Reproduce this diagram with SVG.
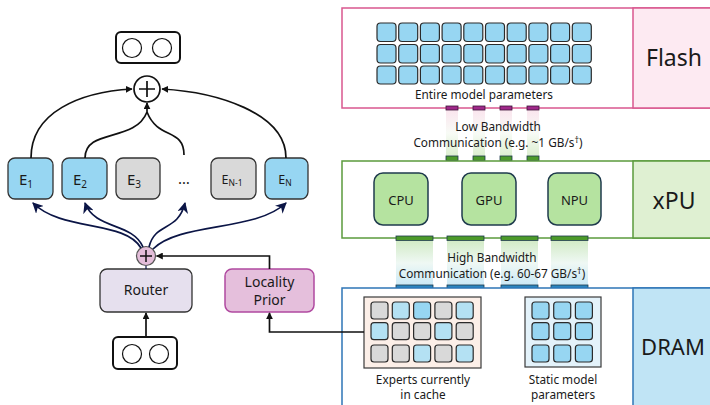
<svg xmlns="http://www.w3.org/2000/svg" width="710" height="405" viewBox="0 0 710 405">
<defs>
<style>
text{font-family:"Noto Sans","Liberation Sans",sans-serif;fill:#1a1a1a}
.cell{stroke:#2b2b2b;stroke-width:1.2}
.b{fill:#97d6f2}
.lb{fill:#b4e1f3}
.g{fill:#d9d9d9}
.exp{stroke:#333;stroke-width:1.3}
.blk{fill:none;stroke:#111;stroke-width:1.7}
.nav{fill:none;stroke:#0b1546;stroke-width:1.7}
.sm{font-size:11.8px}
.big{font-size:23px}
.unit{font-size:13px}
.lbl{font-size:14px}
</style>
<marker id="ab" viewBox="0 0 10 10" refX="9" refY="5" markerWidth="7" markerHeight="7" orient="auto-start-reverse" markerUnits="userSpaceOnUse"><path d="M0,0 L10,5 L0,10 z" fill="#111"/></marker>
<marker id="an" viewBox="0 0 10 10" refX="9" refY="5" markerWidth="11" markerHeight="11" orient="auto" markerUnits="userSpaceOnUse"><path d="M0,0 L10,5 L0,10 L3,5 z" fill="#0b1546"/></marker>
<linearGradient id="gpg" x1="0" y1="0" x2="0" y2="1"><stop offset="0" stop-color="#fae5ee"/><stop offset="0.5" stop-color="#f8fbf6"/><stop offset="1" stop-color="#dcefd0"/></linearGradient>
<linearGradient id="ggb" x1="0" y1="0" x2="0" y2="1"><stop offset="0" stop-color="#d3ebc7"/><stop offset="0.5" stop-color="#eff8f4"/><stop offset="1" stop-color="#cbe9f6"/></linearGradient>
</defs>

<!-- Flash -->
<g id="flash">
<rect x="342" y="8" width="400" height="100" fill="#fff" stroke="#d9578f" stroke-width="1.5"/>
<rect x="633" y="8" width="110" height="100" fill="#fdeaf2" stroke="#d9578f" stroke-width="1.5"/>
<text class="big" x="674" y="66" text-anchor="middle">Flash</text>
<g id="flash-cells">
<rect class="cell b" x="377" y="23" width="19" height="18.5" rx="3.5"/><rect class="cell b" x="398.7" y="23" width="19" height="18.5" rx="3.5"/><rect class="cell b" x="420.4" y="23" width="19" height="18.5" rx="3.5"/><rect class="cell b" x="442.1" y="23" width="19" height="18.5" rx="3.5"/><rect class="cell b" x="463.8" y="23" width="19" height="18.5" rx="3.5"/><rect class="cell b" x="485.5" y="23" width="19" height="18.5" rx="3.5"/><rect class="cell b" x="507.2" y="23" width="19" height="18.5" rx="3.5"/><rect class="cell b" x="528.9" y="23" width="19" height="18.5" rx="3.5"/><rect class="cell b" x="550.6" y="23" width="19" height="18.5" rx="3.5"/><rect class="cell b" x="572.3" y="23" width="19" height="18.5" rx="3.5"/>
<rect class="cell b" x="377" y="44.5" width="19" height="18.5" rx="3.5"/><rect class="cell b" x="398.7" y="44.5" width="19" height="18.5" rx="3.5"/><rect class="cell b" x="420.4" y="44.5" width="19" height="18.5" rx="3.5"/><rect class="cell b" x="442.1" y="44.5" width="19" height="18.5" rx="3.5"/><rect class="cell b" x="463.8" y="44.5" width="19" height="18.5" rx="3.5"/><rect class="cell b" x="485.5" y="44.5" width="19" height="18.5" rx="3.5"/><rect class="cell b" x="507.2" y="44.5" width="19" height="18.5" rx="3.5"/><rect class="cell b" x="528.9" y="44.5" width="19" height="18.5" rx="3.5"/><rect class="cell b" x="550.6" y="44.5" width="19" height="18.5" rx="3.5"/><rect class="cell b" x="572.3" y="44.5" width="19" height="18.5" rx="3.5"/>
<rect class="cell b" x="377" y="66" width="19" height="18" rx="3.5"/><rect class="cell b" x="398.7" y="66" width="19" height="18" rx="3.5"/><rect class="cell b" x="420.4" y="66" width="19" height="18" rx="3.5"/><rect class="cell b" x="442.1" y="66" width="19" height="18" rx="3.5"/><rect class="cell b" x="463.8" y="66" width="19" height="18" rx="3.5"/><rect class="cell b" x="485.5" y="66" width="19" height="18" rx="3.5"/><rect class="cell b" x="507.2" y="66" width="19" height="18" rx="3.5"/><rect class="cell b" x="528.9" y="66" width="19" height="18" rx="3.5"/><rect class="cell b" x="550.6" y="66" width="19" height="18" rx="3.5"/><rect class="cell b" x="572.3" y="66" width="19" height="18" rx="3.5"/>
</g>
<text class="sm" x="484" y="98.5" text-anchor="middle">Entire model parameters</text>
</g>

<!-- Flash-xPU link -->
<g id="link-low">
<rect x="446" y="110" width="12" height="46" fill="url(#gpg)"/>
<rect x="473" y="110" width="12" height="46" fill="url(#gpg)"/>
<rect x="500" y="110" width="12" height="46" fill="url(#gpg)"/>
<rect x="527" y="110" width="12" height="46" fill="url(#gpg)"/>
<g fill="#a0288a" stroke="#3c1438" stroke-width="0.8">
<rect x="446" y="106" width="12" height="4"/><rect x="473" y="106" width="12" height="4"/><rect x="500" y="106" width="12" height="4"/><rect x="527" y="106" width="12" height="4"/>
</g>
<g fill="#4c9a2a" stroke="#1f3b4d" stroke-width="0.8">
<rect x="446" y="156" width="12" height="4.5"/><rect x="473" y="156" width="12" height="4.5"/><rect x="500" y="156" width="12" height="4.5"/><rect x="527" y="156" width="12" height="4.5"/>
</g>
<text class="sm" x="498" y="131" text-anchor="middle">Low Bandwidth</text>
<text class="sm" x="498" y="147" text-anchor="middle">Communication (e.g. ~1 GB/s<tspan font-size="9" dy="-4">†</tspan><tspan dy="4">)</tspan></text>
</g>

<!-- xPU -->
<g id="xpu">
<rect x="342" y="161" width="400" height="77" fill="#fff" stroke="#5b9b3c" stroke-width="1.5"/>
<rect x="633" y="161" width="110" height="77" fill="#dff0d2" stroke="#5b9b3c" stroke-width="1.5"/>
<text class="big" x="674" y="209" text-anchor="middle">xPU</text>
<g id="cpu"><rect x="374" y="173" width="54" height="52" rx="9" fill="#b5e3a0" stroke="#1f3b4d" stroke-width="1.5"/><text class="unit" x="401" y="204.5" text-anchor="middle">CPU</text></g>
<g id="gpu"><rect x="462" y="173" width="54" height="52" rx="9" fill="#b5e3a0" stroke="#1f3b4d" stroke-width="1.5"/><text class="unit" x="489" y="204.5" text-anchor="middle">GPU</text></g>
<g id="npu"><rect x="548" y="173" width="53" height="52" rx="9" fill="#b5e3a0" stroke="#1f3b4d" stroke-width="1.5"/><text class="unit" x="574.5" y="204.5" text-anchor="middle">NPU</text></g>
</g>

<!-- xPU-DRAM link -->
<g id="link-high">
<rect x="396" y="241" width="37" height="44" fill="url(#ggb)"/>
<rect x="447" y="241" width="37" height="44" fill="url(#ggb)"/>
<rect x="501" y="241" width="37" height="44" fill="url(#ggb)"/>
<rect x="551" y="241" width="37" height="44" fill="url(#ggb)"/>
<g fill="#4c9a2a" stroke="#1f3b4d" stroke-width="0.8">
<rect x="396" y="236" width="37" height="4.5"/><rect x="447" y="236" width="37" height="4.5"/><rect x="501" y="236" width="37" height="4.5"/><rect x="551" y="236" width="37" height="4.5"/>
</g>
<g fill="#2a86c0" stroke="#1f3b4d" stroke-width="0.8">
<rect x="396" y="285" width="37" height="4"/><rect x="447" y="285" width="37" height="4"/><rect x="501" y="285" width="37" height="4"/><rect x="551" y="285" width="37" height="4"/>
</g>
<text class="sm" x="492" y="261.5" text-anchor="middle">High Bandwidth</text>
<text class="sm" x="492" y="278" text-anchor="middle">Communication (e.g. 60-67 GB/s<tspan font-size="9" dy="-4">†</tspan><tspan dy="4">)</tspan></text>
</g>

<!-- DRAM -->
<g id="dram">
<rect x="342" y="288" width="400" height="120" fill="#fff" stroke="#2e75b6" stroke-width="1.5"/>
<rect x="633" y="288" width="110" height="120" fill="#c0e4f5" stroke="#2e75b6" stroke-width="1.5"/>
<text x="673" y="355" font-size="22" text-anchor="middle">DRAM</text>
<g id="cache">
<rect x="364" y="297" width="117" height="71" fill="#fcefe8" stroke="#3a3a3a" stroke-width="1.2"/>
<rect class="cell g" x="371" y="302" width="17" height="17" rx="3"/><rect class="cell lb" x="392.3" y="302" width="17" height="17" rx="3"/><rect class="cell b" x="413.6" y="302" width="17" height="17" rx="3"/><rect class="cell g" x="434.9" y="302" width="17" height="17" rx="3"/><rect class="cell lb" x="456.2" y="302" width="17" height="17" rx="3"/>
<rect class="cell lb" x="371" y="322.7" width="17" height="17" rx="3"/><rect class="cell g" x="392.3" y="322.7" width="17" height="17" rx="3"/><rect class="cell g" x="413.6" y="322.7" width="17" height="17" rx="3"/><rect class="cell lb" x="434.9" y="322.7" width="17" height="17" rx="3"/><rect class="cell g" x="456.2" y="322.7" width="17" height="17" rx="3"/>
<rect class="cell g" x="371" y="345" width="17" height="17" rx="3"/><rect class="cell g" x="392.3" y="345" width="17" height="17" rx="3"/><rect class="cell lb" x="413.6" y="345" width="17" height="17" rx="3"/><rect class="cell g" x="434.9" y="345" width="17" height="17" rx="3"/><rect class="cell lb" x="456.2" y="345" width="17" height="17" rx="3"/>
<text class="sm" x="423" y="384" text-anchor="middle">Experts currently</text>
<text class="sm" x="423" y="399" text-anchor="middle">in cache</text>
</g>
<g id="static">
<rect x="525" y="297" width="76" height="70" fill="#e3f2fa" stroke="#3a3a3a" stroke-width="1.2"/>
<rect class="cell b" x="532" y="302" width="17" height="17" rx="3"/><rect class="cell b" x="553.7" y="302" width="17" height="17" rx="3"/><rect class="cell b" x="575.4" y="302" width="17" height="17" rx="3"/>
<rect class="cell b" x="532" y="322.7" width="17" height="17" rx="3"/><rect class="cell b" x="553.7" y="322.7" width="17" height="17" rx="3"/><rect class="cell b" x="575.4" y="322.7" width="17" height="17" rx="3"/>
<rect class="cell b" x="532" y="345" width="17" height="17" rx="3"/><rect class="cell b" x="553.7" y="345" width="17" height="17" rx="3"/><rect class="cell b" x="575.4" y="345" width="17" height="17" rx="3"/>
<text class="sm" x="563" y="384" text-anchor="middle">Static model</text>
<text class="sm" x="563" y="399" text-anchor="middle">parameters</text>
</g>
</g>

<!-- Left: MoE -->
<g id="output-token">
<rect x="116" y="32" width="64" height="31" rx="5" fill="#fff" stroke="#111" stroke-width="2"/>
<circle cx="132" cy="48" r="9.5" fill="#fff" stroke="#111" stroke-width="1.2"/>
<circle cx="162" cy="48" r="9.5" fill="#fff" stroke="#111" stroke-width="1.2"/>
</g>
<g id="sum">
<circle cx="147" cy="89" r="13" fill="#fff" stroke="#111" stroke-width="1.7"/>
<path d="M147,81 V97 M139,89 H155" stroke="#111" stroke-width="1.7"/>
</g>
<g id="e1"><rect class="exp b" x="8" y="158" width="45" height="41" rx="7"/><text x="26" y="185" font-size="15" text-anchor="middle">E<tspan font-size="10" dy="3">1</tspan></text></g>
<g id="e2"><rect class="exp b" x="62" y="158" width="45" height="41" rx="7"/><text x="80" y="185" font-size="15" text-anchor="middle">E<tspan font-size="10" dy="3">2</tspan></text></g>
<g id="e3"><rect class="exp g" x="116" y="158" width="44" height="41" rx="7"/><text x="134" y="185" font-size="15" text-anchor="middle">E<tspan font-size="10" dy="3">3</tspan></text></g>
<g id="dots"><text x="184" y="184" font-size="15" text-anchor="middle">…</text></g>
<g id="en1"><rect class="exp g" x="211" y="158" width="45" height="41" rx="7"/><text x="232" y="184" font-size="12.5" text-anchor="middle">E<tspan font-size="8.5" dy="2">N-1</tspan></text></g>
<g id="en"><rect class="exp b" x="265" y="158" width="43" height="41" rx="7"/><text x="285" y="184" font-size="12.5" text-anchor="middle">E<tspan font-size="8.5" dy="2">N</tspan></text></g>

<g id="gate">
<circle cx="146" cy="256" r="9.5" fill="#e3bdd9" stroke="#555" stroke-width="1.2"/>
<path d="M146,250 V262 M140,256 H152" stroke="#111" stroke-width="1.5"/>
</g>
<g id="router">
<rect x="100" y="269" width="92" height="43" rx="7" fill="#e6e0ee" stroke="#333" stroke-width="1.3"/>
<text class="lbl" x="146" y="295" text-anchor="middle">Router</text>
</g>
<g id="locality">
<rect x="225" y="269" width="89" height="43" rx="7" fill="#e5bfdc" stroke="#b04aa0" stroke-width="1.5"/>
<text class="lbl" x="269.5" y="287" text-anchor="middle">Locality</text>
<text class="lbl" x="269.5" y="305" text-anchor="middle">Prior</text>
</g>
<g id="input-token">
<rect x="113" y="337" width="64" height="32" rx="5" fill="#fff" stroke="#111" stroke-width="2"/>
<circle cx="132" cy="354" r="9.5" fill="#fff" stroke="#111" stroke-width="1.2"/>
<circle cx="159" cy="354" r="9.5" fill="#fff" stroke="#111" stroke-width="1.2"/>
</g>

<g id="connectors">
<path class="blk" d="M31,158 C31,112 80,92 132,89" marker-end="url(#ab)"/>
<path class="blk" d="M286,158 C286,112 215,92 162,89" marker-end="url(#ab)"/>
<path class="blk" d="M85,158 C85,128 135,143 147,112 L147,103" marker-end="url(#ab)"/>
<path class="blk" d="M184,155 C184,128 158,140 147,112"/>
<path class="nav" d="M141,248 C125,220 62,232 33,203" marker-end="url(#an)"/>
<path class="nav" d="M143,247 C132,222 95,230 85,203" marker-end="url(#an)"/>
<path class="nav" d="M149,247 C155,222 178,232 185,203" marker-end="url(#an)"/>
<path class="nav" d="M153,249 C180,222 255,232 286,203" marker-end="url(#an)"/>
<path d="M146,266 V269" stroke="#0b1546" stroke-width="1.2"/>
<path class="blk" d="M146,337 V313" marker-end="url(#ab)"/>
<path class="blk" d="M269.5,269 V256 H156.5" marker-end="url(#ab)"/>
<path class="blk" d="M364,332 H269.5 V313" marker-end="url(#ab)"/>
</g>
</svg>
